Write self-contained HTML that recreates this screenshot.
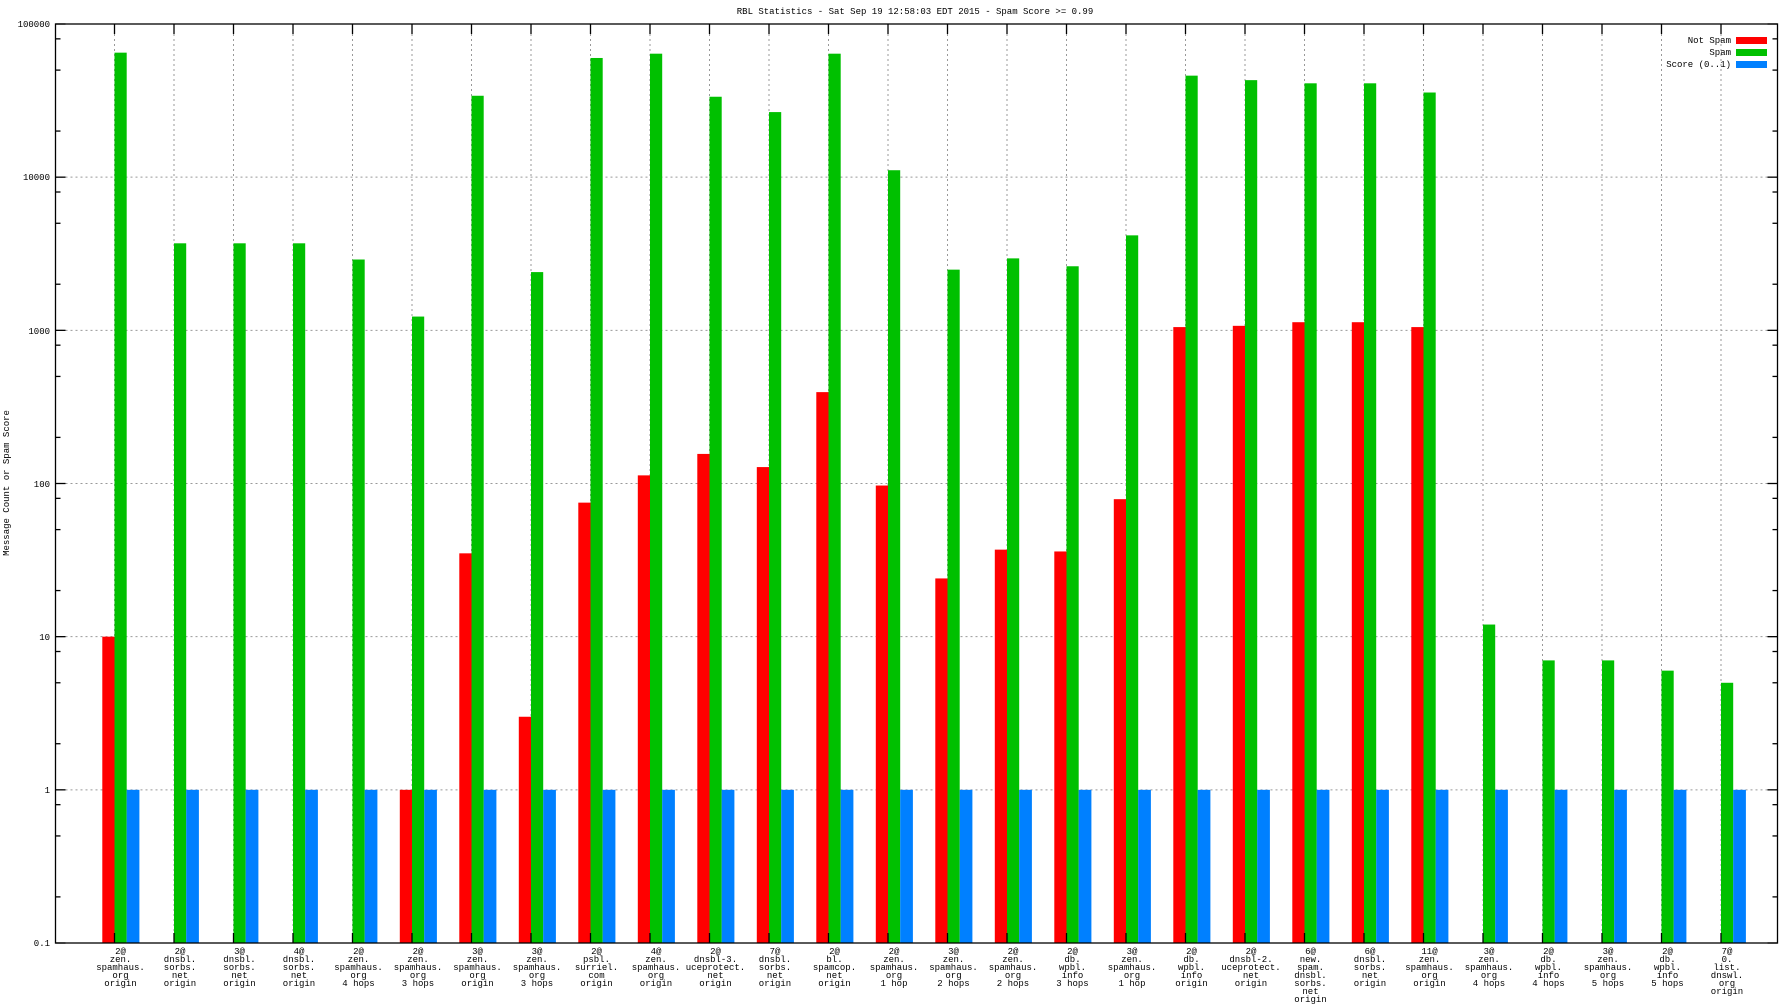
<!DOCTYPE html>
<html><head><meta charset="utf-8"><style>
html,body{margin:0;padding:0;background:#fff;}
svg{display:block;}
text{font-family:"Liberation Mono",monospace;font-size:9px;fill:#000;}
</style></head><body>
<svg id="s" width="1792" height="1008" viewBox="0 0 1792 1008" xmlns="http://www.w3.org/2000/svg">
<g id="grid"></g>
<g id="bars"></g>
<rect x="55.5" y="24" width="1722" height="919" fill="none" stroke="#000" stroke-width="1.3"/>
<g id="ticks" stroke="#000" stroke-width="1.3"></g>
<text x="915" y="14" text-anchor="middle">RBL Statistics - Sat Sep 19 12:58:03 EDT 2015 - Spam Score &gt;= 0.99</text>
<text transform="translate(9,483) rotate(-90)" text-anchor="middle">Message Count or Spam Score</text>
<g text-anchor="end">
<text x="50" y="27">100000</text>
<text x="50" y="180">10000</text>
<text x="50" y="334">1000</text>
<text x="50" y="487">100</text>
<text x="50" y="640">10</text>
<text x="50" y="793">1</text>
<text x="50" y="946">0.1</text>
<text x="1731" y="43">Not Spam</text>
<text x="1731" y="55">Spam</text>
<text x="1731" y="67">Score (0..1)</text>
</g>
<rect x="1736" y="37" width="31" height="7" fill="#ff0000"/>
<rect x="1736" y="49" width="31" height="7" fill="#00c000"/>
<rect x="1736" y="61" width="31" height="7" fill="#0080ff"/>
<g id="labels" text-anchor="middle"></g>
</svg>
<script>
(function(){
var NS="http://www.w3.org/2000/svg";
function el(p,t,a){var e=document.createElementNS(NS,t);for(var k in a)e.setAttribute(k,a[k]);document.getElementById(p).appendChild(e);return e;}
var T=24,B=943,dec=(B-T)/6,L=55.5,R=1777.5;
function y(v){return B-(Math.log10(v)+1)*dec;}
var red=[10,0,0,0,0,1,35,3,75,113,156,128,395,97,24,37,36,79,1050,1070,1130,1130,1050,0,0,0,0,0];
var green=[65000,3700,3700,3700,2900,1230,34000,2400,60000,64000,33500,26600,64000,11100,2490,2950,2620,4170,46000,43000,41000,41000,35700,12,7,7,6,5];
var labels=[["2@","zen.","spamhaus.","org","origin"],["2@","dnsbl.","sorbs.","net","origin"],["3@","dnsbl.","sorbs.","net","origin"],["4@","dnsbl.","sorbs.","net","origin"],["2@","zen.","spamhaus.","org","4 hops"],["2@","zen.","spamhaus.","org","3 hops"],["3@","zen.","spamhaus.","org","origin"],["3@","zen.","spamhaus.","org","3 hops"],["2@","psbl.","surriel.","com","origin"],["4@","zen.","spamhaus.","org","origin"],["2@","dnsbl-3.","uceprotect.","net","origin"],["7@","dnsbl.","sorbs.","net","origin"],["2@","bl.","spamcop.","net","origin"],["2@","zen.","spamhaus.","org","1 hop"],["3@","zen.","spamhaus.","org","2 hops"],["2@","zen.","spamhaus.","org","2 hops"],["2@","db.","wpbl.","info","3 hops"],["3@","zen.","spamhaus.","org","1 hop"],["2@","db.","wpbl.","info","origin"],["2@","dnsbl-2.","uceprotect.","net","origin"],["6@","new.","spam.","dnsbl.","sorbs.","net","origin"],["6@","dnsbl.","sorbs.","net","origin"],["11@","zen.","spamhaus.","org","origin"],["3@","zen.","spamhaus.","org","4 hops"],["2@","db.","wpbl.","info","4 hops"],["3@","zen.","spamhaus.","org","5 hops"],["2@","db.","wpbl.","info","5 hops"],["7@","0.","list.","dnswl.","org","origin"]];
for(var d=1;d<6;d++){var yy=T+d*dec;el("grid","line",{x1:L,x2:R,y1:yy,y2:yy,stroke:"#999","stroke-dasharray":"2,3"});}
for(var d=0;d<6;d++){[2,5,8].forEach(function(m){var yy=B-(d+Math.log10(m))*dec;el("ticks","line",{x1:L,x2:L+5,y1:yy,y2:yy});el("ticks","line",{x1:R-5,x2:R,y1:yy,y2:yy});});}
for(var d=0;d<=6;d++){var yy=T+d*dec;el("ticks","line",{x1:L,x2:L+10,y1:yy,y2:yy});el("ticks","line",{x1:R-10,x2:R,y1:yy,y2:yy});}
var sp=59.5,x0=114.5,w=12.2;
for(var i=0;i<28;i++){var x=x0+i*sp;
el("grid","line",{x1:x,x2:x,y1:T,y2:B,stroke:"#999","stroke-dasharray":"2,3"});
el("ticks","line",{x1:x,x2:x,y1:T,y2:T+10});el("ticks","line",{x1:x,x2:x,y1:B-10,y2:B});
if(red[i]>0)el("bars","rect",{x:x-w,y:y(red[i]),width:w,height:B-y(red[i]),fill:"#ff0000"});
el("bars","rect",{x:x,y:y(green[i]),width:w,height:B-y(green[i]),fill:"#00c000"});
el("bars","rect",{x:x+w,y:y(1),width:w+0.5,height:B-y(1),fill:"#0080ff"});
labels[i].forEach(function(t,j){var e=el("labels","text",{x:x+6,y:954+j*8});e.textContent=t;});
}
})();
</script>
</body></html>
